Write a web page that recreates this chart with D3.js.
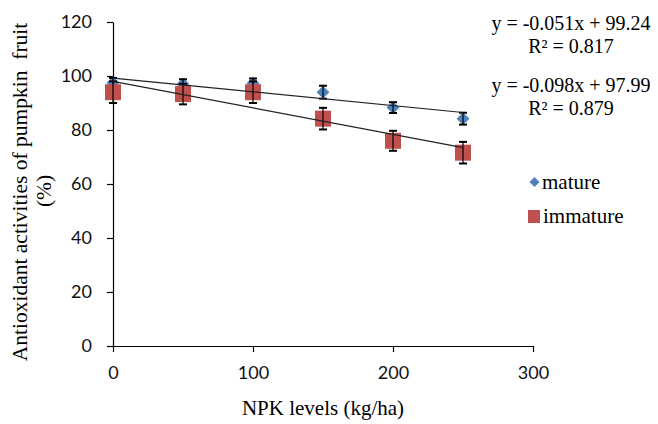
<!DOCTYPE html>
<html><head><meta charset="utf-8">
<script src="https://cdn.jsdelivr.net/npm/d3@7"></script>
<style>body{margin:0;background:#fff}</style>
</head><body>
<script>
const npk = [0, 50, 100, 150, 200, 250];
const mature = [97.5, 97.0, 97.3, 94.0, 88.3, 84.2];
const matureErr = [1.8, 1.8, 1.8, 2.4, 2.0, 2.2];
const immature = [94.0, 93.3, 94.0, 84.2, 76.0, 71.6];
const immatureErr = [4.0, 3.8, 4.0, 4.0, 3.7, 4.0];
const matureTrend = {slope: -0.051, intercept: 99.24, r2: "0.817"};
const immatureTrend = {slope: -0.098, intercept: 97.99, r2: "0.879"};
const xTicks = [0, 100, 200, 300];
const yTicks = [0, 20, 40, 60, 80, 100, 120];

const W = 658, H = 424;
const svg = d3.select("body").append("svg").attr("width", W).attr("height", H);
const x = d3.scaleLinear().domain([0, 300]).range([113, 533]);
const y = d3.scaleLinear().domain([0, 120]).range([346, 22]);
const tickFont = "Lato, 'Open Sans', sans-serif";
const serif = "'Liberation Serif', 'Times New Roman', serif";

const yAxis = svg.append("g").attr("transform", "translate(113,0)")
  .call(d3.axisLeft(y).tickValues(yTicks).tickSize(6).tickPadding(15).tickSizeOuter(0));
const xAxis = svg.append("g").attr("transform", "translate(0,346)")
  .call(d3.axisBottom(x).tickValues(xTicks).tickSize(6).tickPadding(14).tickSizeOuter(0));
[yAxis, xAxis].forEach(a => {
  a.selectAll("path, line").attr("stroke", "#000").attr("stroke-width", 1.2);
  a.selectAll("text").attr("font-family", tickFont).attr("font-size", 18).attr("fill", "#111");
});

function trend(t) {
  return [[0, t.intercept], [250, t.slope * 250 + t.intercept]];
}
const line = d3.line().x(d => x(d[0])).y(d => y(d[1]));

function series(vals, errs, kind, color) {
  const g = svg.append("g");
  npk.forEach((n, i) => {
    const cx = x(n), cy = y(vals[i]);
    if (kind === "diamond") {
      g.append("path").attr("d", d3.symbol(d3.symbolDiamond2, 105)())
        .attr("transform", `translate(${cx},${cy})`).attr("fill", color);
    } else {
      g.append("rect").attr("x", cx - 8).attr("y", cy - 8).attr("width", 16).attr("height", 16)
        .attr("fill", color);
    }
  });
  npk.forEach((n, i) => {
    const cx = x(n), y1 = y(vals[i] + errs[i]), y2 = y(vals[i] - errs[i]);
    g.append("line").attr("x1", cx).attr("x2", cx).attr("y1", y1).attr("y2", y2)
      .attr("stroke", "#000").attr("stroke-width", 1.2);
    [y1, y2].forEach(yy => g.append("line").attr("x1", cx - 4).attr("x2", cx + 4)
      .attr("y1", yy).attr("y2", yy).attr("stroke", "#000").attr("stroke-width", 2));
  });
}
series(mature, matureErr, "diamond", "#4F81BD");
series(immature, immatureErr, "square", "#C0504D");

[matureTrend, immatureTrend].forEach(t => {
  svg.append("path").datum(trend(t)).attr("d", line)
    .attr("fill", "none").attr("stroke", "#222").attr("stroke-width", 1.2);
});

function eq(t, yb) {
  const s = t.slope.toFixed(3);
  svg.append("text").attr("x", 571).attr("y", yb).attr("text-anchor", "middle")
    .attr("font-family", serif).attr("font-size", 20)
    .text(`y = ${s}x + ${t.intercept.toFixed(2)}`);
  svg.append("text").attr("x", 571).attr("y", yb + 23).attr("text-anchor", "middle")
    .attr("font-family", serif).attr("font-size", 20)
    .text(`R² = ${t.r2}`);
}
eq(matureTrend, 30);
eq(immatureTrend, 92);

// legend
svg.append("path").attr("d", d3.symbol(d3.symbolDiamond2, 64)())
  .attr("transform", "translate(534.5,182)").attr("fill", "#4F81BD");
svg.append("text").attr("x", 542).attr("y", 189).attr("font-family", serif)
  .attr("font-size", 21).text("mature");
svg.append("rect").attr("x", 528).attr("y", 210).attr("width", 12).attr("height", 13)
  .attr("fill", "#C0504D");
svg.append("text").attr("x", 543).attr("y", 223).attr("font-family", serif)
  .attr("font-size", 21).text("immature");

// axis titles
svg.append("text").attr("transform", "translate(27,192) rotate(-90)")
  .attr("text-anchor", "middle").attr("font-family", serif).attr("font-size", 21.5)
  .style("white-space", "pre")
  .text("Antioxidant activities of pumpkin  fruit");
svg.append("text").attr("transform", "translate(51,191) rotate(-90)")
  .attr("text-anchor", "middle").attr("font-family", serif).attr("font-size", 21.5)
  .text("(%)");
svg.append("text").attr("x", 323).attr("y", 415).attr("text-anchor", "middle")
  .attr("font-family", serif).attr("font-size", 21).text("NPK levels (kg/ha)");
</script>
</body></html>
